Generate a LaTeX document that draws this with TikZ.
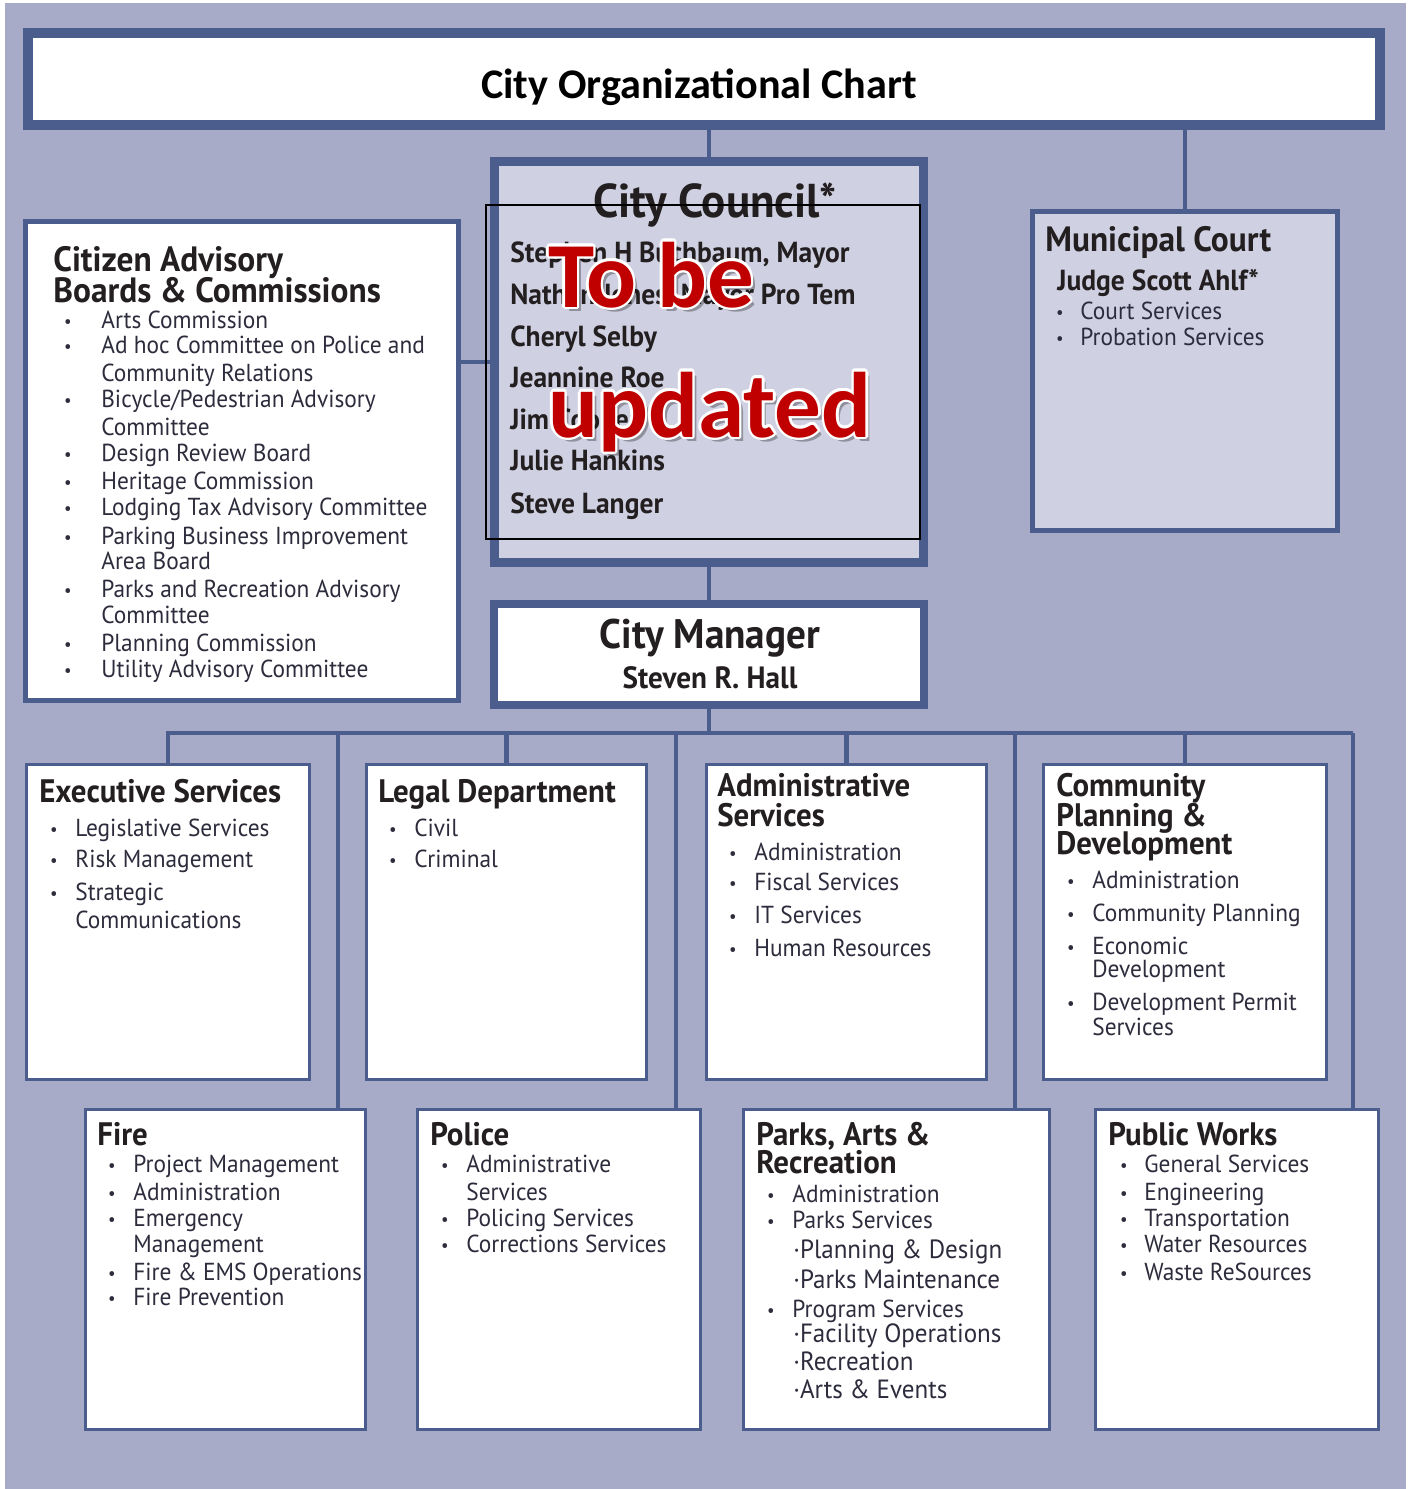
\documentclass[tikz,border=0pt]{standalone}
\usepackage{fontspec}
\setmainfont{PT Sans}[FakeStretch=0.95]
\newfontfamily\calfont{Carlito}
\usetikzlibrary{positioning,calc}

\definecolor{bgblue}{HTML}{A7ABC7}
\definecolor{lineblue}{HTML}{4A5D8D}
\definecolor{councilfill}{HTML}{CFD0E1}
\definecolor{headtext}{HTML}{231F20}
\definecolor{itemtext}{HTML}{2C2C3C}
\definecolor{stampred}{HTML}{C00000}

\def\pu{0.02cm}

\tikzset{
  orgbox/.style={draw=lineblue, fill=white, line width=1.7pt, inner sep=0pt, outer sep=0pt},
  link/.style={draw=lineblue, line width=2.4pt},
  head/.style={anchor=mid west, inner sep=0pt, text=headtext, yshift=-0.11cm, font=\bfseries\fontsize{18.5}{20}\selectfont},
  bighead/.style={head, yshift=-0.03cm, font=\bfseries\fontsize{20}{22}\selectfont},
  namebold/.style={head, font=\bfseries\fontsize{16.5}{18}\selectfont},
  item/.style={anchor=mid west, inner sep=0pt, text=itemtext, yshift=-0.08cm, font=\fontsize{14}{16}\selectfont},
  subitem/.style={item, font=\fontsize{15}{17}\selectfont},
  dot/.style={anchor=mid, inner sep=0pt, text=itemtext, yshift=-0.06cm, font=\fontsize{10}{11}\selectfont},
  stamp/.style={anchor=base west, inner sep=0pt, font=\calfont\bfseries\fontsize{53}{60}\selectfont},
}

\begin{document}
\begin{tikzpicture}[x=0.02cm, y=-0.02cm]
    % Background
    \fill[white] (0,0) rectangle (1411,1489);
    \fill[bgblue] (5,3) rectangle (1406,1489);
    \useasboundingbox (0,0) rectangle (1411,1489);

    % Boxes
    \node[orgbox, line width=5.7pt, minimum width=1352*\pu, minimum height=92*\pu] (title) at (704,79) {};
    \node[orgbox, fill=councilfill, line width=5pt, minimum width=429*\pu, minimum height=401*\pu] (council) at (709,362) {};
    \node[orgbox, fill=councilfill, line width=2.6pt, minimum width=305*\pu, minimum height=319*\pu] (court) at (1185,371) {};
    \node[orgbox, line width=2.8pt, minimum width=433*\pu, minimum height=479*\pu] (citizen) at (242,461) {};
    \node[orgbox, line width=4.5pt, minimum width=430*\pu, minimum height=101*\pu] (manager) at (709,654.5) {};

    \node[orgbox, minimum width=283*\pu, minimum height=315*\pu] (exec) at (168,922) {};
    \node[orgbox, minimum width=280*\pu, minimum height=315*\pu] (legal) at (506.5,922) {};
    \node[orgbox, minimum width=280*\pu, minimum height=315*\pu] (admin) at (846.5,922) {};
    \node[orgbox, minimum width=283*\pu, minimum height=315*\pu] (cpd) at (1185,922) {};

    \node[orgbox, minimum width=280*\pu, minimum height=320*\pu] (fire) at (225.5,1269.5) {};
    \node[orgbox, minimum width=283*\pu, minimum height=320*\pu] (police) at (559,1269.5) {};
    \node[orgbox, minimum width=306*\pu, minimum height=320*\pu] (parks) at (896.5,1269.5) {};
    \node[orgbox, minimum width=283*\pu, minimum height=320*\pu] (pw) at (1237,1269.5) {};

    % Connectors
    \draw[link] (council.north) -- (council.north |- title.south);
    \draw[link] (court.north) -- (court.north |- title.south);
    \draw[link] (council.west) -- (council.west -| citizen.east);
    \draw[link] (council.south) -- (manager.north);

    \coordinate (busW) at (166,733);
    \coordinate (busE) at (1353,733);
    \coordinate (drop1) at (338,733);
    \coordinate (drop2) at (676,733);
    \coordinate (drop3) at (1015,733);
    \draw[link] (manager.south) -- (manager.south |- busW);
    \draw[link] (busW) -- (busE);
    \draw[link] (exec.north) -- (exec.north |- busW);
    \draw[link] (legal.north) -- (legal.north |- busW);
    \draw[link] (admin.north) -- (admin.north |- busW);
    \draw[link] (cpd.north) -- (cpd.north |- busW);
    \draw[link] (drop1) -- (drop1 |- fire.north);
    \draw[link] (drop2) -- (drop2 |- police.north);
    \draw[link] (drop3) -- (drop3 |- parks.north);
    \draw[link] (busE) -- (busE |- pw.north);

    % Title
    \node[inner sep=0pt, font=\calfont\bfseries\fontsize{24}{28}\selectfont] (titletext) at (699,87) {City Organizational Chart};

    % City Council
    \node[head, anchor=mid, yshift=-0.05cm, font=\bfseries\fontsize{27}{30}\selectfont] (counciltitle) at (715,205) {City Council*};
    \foreach \name/\y [count=\i] in {{Stephen H Buchbaum, Mayor}/253, {Nathan Jones, Mayor Pro Tem}/295, Cheryl Selby/337, Jeannine Roe/378, Jim Cooper/420, Julie Hankins/461, Steve Langer/504} {
        \node[namebold] (member-\i) at (510,\y) {\name};
    }

    % Municipal Court
    \node[bighead] (courttitle) at (1045,240) {Municipal Court};
    \node[namebold] (judge) at (1057,281) {Judge Scott Ahlf*};
    \foreach \name/\y [count=\i] in {Court Services/311, Probation Services/337} {
        \node[dot] (courtdot-\i) at (1060,\y) {•};
        \node[item] (court-\i) at (1080,\y) {\name};
    }

    % Citizen Advisory Boards
    \node[bighead] (citizentitle1) at (53,260) {Citizen Advisory};
    \node[bighead] (citizentitle2) at (53,291) {Boards \& Commissions};
    \foreach \name/\y [count=\i] in {Arts Commission/320, Ad hoc Committee on Police and/345, Community Relations/373, {Bicycle/Pedestrian Advisory}/399, Committee/427, Design Review Board/453, Heritage Commission/481, Lodging Tax Advisory Committee/507, Parking Business Improvement/536, Area Board/561, Parks and Recreation Advisory/589, Committee/615, Planning Commission/643, Utility Advisory Committee/669} {
        \node[item] (citizen-\i) at (101,\y) {\name};
    }
    \foreach \y [count=\i] in {320,345,399,453,481,507,536,589,643,669} {
        \node[dot] (citizendot-\i) at (68,\y) {•};
    }

    % City Manager
    \node[head, anchor=mid, yshift=-0.04cm, font=\bfseries\fontsize{23.5}{26}\selectfont] (managertitle) at (710,637) {City Manager};
    \node[head, anchor=mid, font=\bfseries\fontsize{17.5}{20}\selectfont] (managername) at (710,679) {Steven R. Hall};

    % Executive Services
    \node[head] (exectitle) at (39,793) {Executive Services};
    \foreach \name/\y [count=\i] in {Legislative Services/828, Risk Management/859, Strategic/892, Communications/920} {
        \node[item] (exec-\i) at (75,\y) {\name};
    }
    \foreach \y [count=\i] in {828,859,892} {
        \node[dot] (execdot-\i) at (54,\y) {•};
    }

    % Legal Department
    \node[head] (legaltitle) at (378,793) {Legal Department};
    \foreach \name/\y [count=\i] in {Civil/828, Criminal/859} {
        \node[dot] (legaldot-\i) at (393,\y) {•};
        \node[item] (legal-\i) at (414,\y) {\name};
    }

    % Administrative Services
    \node[head] (admintitle1) at (717,787) {Administrative};
    \node[head] (admintitle2) at (717,817) {Services};
    \foreach \name/\y [count=\i] in {Administration/852, Fiscal Services/882, IT Services/915, Human Resources/948} {
        \node[dot] (admindot-\i) at (733,\y) {•};
        \node[item] (admin-\i) at (754,\y) {\name};
    }

    % Community Planning & Development
    \node[head] (cpdtitle1) at (1056,787) {Community};
    \node[head] (cpdtitle2) at (1056,817) {Planning \&};
    \node[head] (cpdtitle3) at (1056,845) {Development};
    \foreach \name/\y [count=\i] in {Administration/880, Community Planning/913, Economic/946, Development/969, Development Permit/1002, Services/1027} {
        \node[item] (cpd-\i) at (1092,\y) {\name};
    }
    \foreach \y [count=\i] in {880,913,946,1002} {
        \node[dot] (cpddot-\i) at (1071,\y) {•};
    }

    % Fire
    \node[head] (firetitle) at (97,1136) {Fire};
    \foreach \name/\y [count=\i] in {Project Management/1164, Administration/1192, Emergency/1218, Management/1244, Fire \& EMS Operations/1272, Fire Prevention/1297} {
        \node[item] (fire-\i) at (133,\y) {\name};
    }
    \foreach \y [count=\i] in {1164,1192,1218,1272,1297} {
        \node[dot] (firedot-\i) at (112,\y) {•};
    }

    % Police
    \node[head] (policetitle) at (430,1136) {Police};
    \foreach \name/\y [count=\i] in {Administrative/1164, Services/1192, Policing Services/1218, Corrections Services/1244} {
        \node[item] (police-\i) at (466,\y) {\name};
    }
    \foreach \y [count=\i] in {1164,1218,1244} {
        \node[dot] (policedot-\i) at (445,\y) {•};
    }

    % Parks, Arts & Recreation
    \node[head] (parkstitle1) at (756,1136) {Parks, Arts \&};
    \node[head] (parkstitle2) at (756,1164) {Recreation};
    \foreach \name/\y [count=\i] in {Administration/1194, Parks Services/1220, Program Services/1309} {
        \node[dot] (parksdot-\i) at (771,\y) {•};
        \node[item] (parks-\i) at (792,\y) {\name};
    }
    \foreach \name/\y [count=\i] in {Planning \& Design/1250, Parks Maintenance/1280, Facility Operations/1334, Recreation/1362, Arts \& Events/1390} {
        \node[subitem] (parkssub-\i) at (793,\y) {·\name};
    }

    % Public Works
    \node[head] (pwtitle) at (1108,1136) {Public Works};
    \foreach \name/\y [count=\i] in {General Services/1164, Engineering/1192, Transportation/1218, Water Resources/1244, Waste ReSources/1272} {
        \node[dot] (pwdot-\i) at (1124,\y) {•};
        \node[item] (pw-\i) at (1144,\y) {\name};
    }

    % To be updated stamp
    \node[draw=black, line width=0.9pt, minimum width=434*\pu, minimum height=334*\pu, inner sep=0pt] (stampframe) at (703,372) {};
    \node[stamp, text=black, opacity=0.3] (shadowA) at (552,311) {To be};
    \node[stamp, text=black, opacity=0.3] (shadowB) at (552,441) {updated};
    \foreach \a in {0,30,...,330} {
        \node[stamp, text=white] (outlineA\a) at ($(548,307)+(\a:2.5)$) {To be};
        \node[stamp, text=white] (outlineB\a) at ($(548,437)+(\a:2.5)$) {updated};
    }
    \node[stamp, text=stampred] (stampA) at (548,307) {To be};
    \node[stamp, text=stampred] (stampB) at (548,437) {updated};
\end{tikzpicture}
\end{document}
